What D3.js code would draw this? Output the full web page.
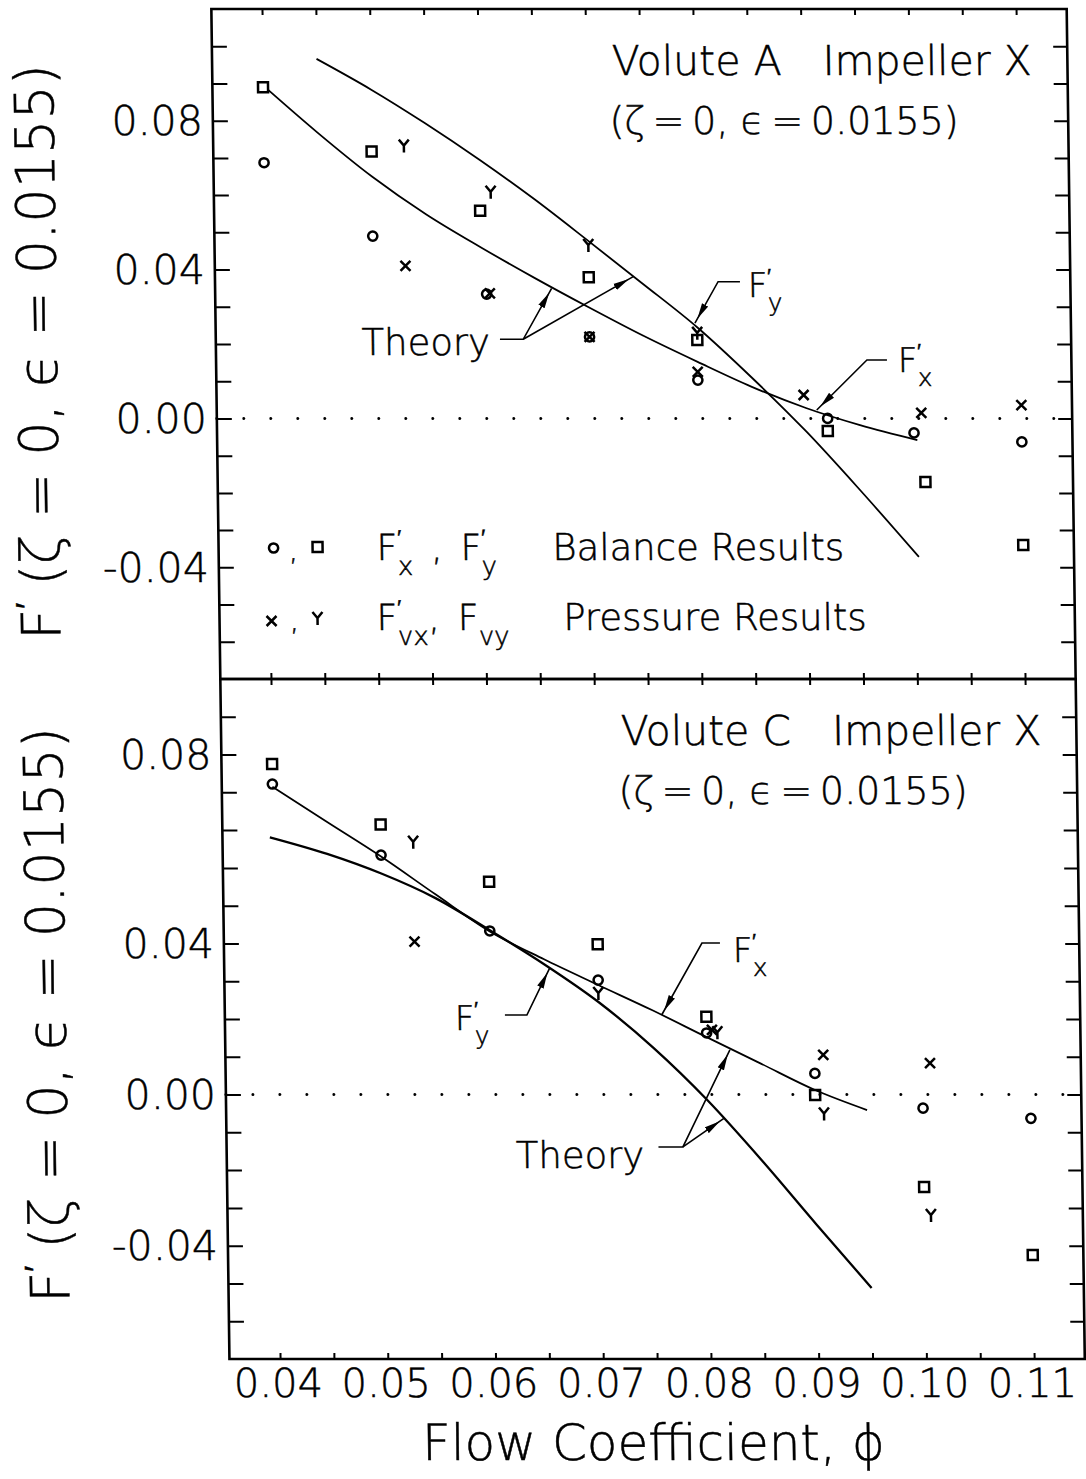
<!DOCTYPE html>
<html>
<head>
<meta charset="utf-8">
<script src="https://cdn.jsdelivr.net/npm/d3@7"></script>
<style>
  html, body { margin: 0; padding: 0; background: #fff; }
  svg { display: block; background: #fff; }
  text { font-family: 'DejaVu Sans', sans-serif; font-weight: 200; fill: #000; stroke: #000; stroke-width: 0.5px; }
</style>
</head>
<body>
<svg id="chart" width="1086" height="1479"></svg>
<script>
// axes
const phiDomain = [0.035, 0.115];
const forceDomain = [-0.07, 0.11];
const phiTickLabels = [0.04, 0.05, 0.06, 0.07, 0.08, 0.09, 0.10, 0.11];
const forceTickLabels = ['-0.04', '0.00', '0.04', '0.08'];
const forceLabelAtA = [-0.04, 0, 0.04, 0.08];
const forceLabelAtC = [-0.04, 0, 0.04, 0.09]; // the printed "0.08" sits one step high on the original

// Volute A, impeller X  [phi, F]
const aFx = [[0.040, 0.0687], [0.050, 0.0490], [0.0605, 0.0334], [0.070, 0.0219], [0.080, 0.0103], [0.092, 0.0000], [0.100, -0.0039], [0.110, -0.0063]];
const aFy = [[0.040, 0.0890], [0.050, 0.0717], [0.060, 0.0558], [0.070, 0.0379], [0.080, 0.0211], [0.092, -0.0034], [0.101, -0.0171], [0.110, -0.0340]];
const aFvx = [[0.053, 0.0410], [0.0608, 0.0336], [0.070, 0.0219], [0.080, 0.0125], [0.0898, 0.0063], [0.1007, 0.0015], [0.110, 0.0036]];
const aFvy = [[0.053, 0.0733], [0.061, 0.0609], [0.070, 0.0466], [0.080, 0.0230]];
const aTheoryFy = [[0.045, 0.0966], [0.050, 0.0884], [0.055, 0.0793], [0.060, 0.0695], [0.065, 0.0590], [0.070, 0.0477], [0.075, 0.0362], [0.080, 0.0245], [0.085, 0.0110], [0.090, -0.0035], [0.095, -0.0195], [0.1003, -0.0372]];
const aTheoryFx = [[0.0405, 0.0882], [0.045, 0.0768], [0.050, 0.0650], [0.055, 0.0548], [0.060, 0.0460], [0.065, 0.0377], [0.070, 0.0298], [0.075, 0.0222], [0.080, 0.0152], [0.085, 0.0085], [0.090, 0.0028], [0.095, -0.0018], [0.1003, -0.0058]];

// Volute C, impeller X
const cFx = [[0.040, 0.0822], [0.050, 0.0634], [0.060, 0.0433], [0.070, 0.0303], [0.080, 0.0163], [0.090, 0.0056], [0.100, -0.0036], [0.110, -0.0063]];
const cFy = [[0.040, 0.0875], [0.050, 0.0715], [0.060, 0.0563], [0.070, 0.0398], [0.080, 0.0206], [0.090, -0.0001], [0.100, -0.0245], [0.110, -0.0425]];
const cFvx = [[0.053, 0.0405], [0.0805, 0.0171], [0.0908, 0.0105], [0.1007, 0.0083]];
const cFvy = [[0.053, 0.0669], [0.070, 0.0269], [0.081, 0.0165], [0.0908, -0.0050], [0.1006, -0.0319]];
const cTheoryFx = [[0.040, 0.0815], [0.045, 0.0722], [0.050, 0.0630], [0.055, 0.0530], [0.060, 0.0432], [0.065, 0.0358], [0.070, 0.0290], [0.075, 0.0223], [0.080, 0.0152], [0.085, 0.0082], [0.090, 0.0012], [0.0948, -0.0041]];
const cTheoryFy = [[0.0397, 0.0681], [0.045, 0.0637], [0.050, 0.0585], [0.055, 0.0520], [0.060, 0.0435], [0.065, 0.0345], [0.070, 0.0245], [0.075, 0.0125], [0.080, -0.0015], [0.085, -0.0175], [0.090, -0.0345], [0.095, -0.0512]];

const svg = d3.select('#chart');

// the scanned page leans slightly: verticals drift right going down
const lean = 0.0134;
const root = svg.append('g')
  .attr('transform', `skewX(${Math.atan(lean) * 180 / Math.PI})`);

svg.append('defs').append('marker')
  .attr('id', 'barb')
  .attr('viewBox', '0 0 16 8')
  .attr('refX', 21).attr('refY', 4)
  .attr('markerWidth', 16).attr('markerHeight', 8)
  .attr('markerUnits', 'userSpaceOnUse')
  .attr('orient', 'auto')
  .append('path').attr('d', 'M0,0.5L16,4L0,7.5Z').attr('fill', '#000');

const x = d3.scaleLinear().domain(phiDomain).range([208, 1069.8]);
const left = x(0.0353), right = x(0.1147);
const phiTicks = d3.range(0, 15).map(i => 0.04 + i * 0.005);
const forceTicks = d3.range(0, 17).map(i => -0.06 + i * 0.01);

const symbols = {
  circle: g => g.append('circle').attr('r', 4.6),
  square: g => g.append('rect').attr('x', -5).attr('y', -5).attr('width', 10).attr('height', 10),
  cross: g => g.append('path').attr('d', 'M-5,-5L5,5M5,-5L-5,5'),
  wye: g => g.append('path').attr('d', 'M-5,-6L0,0L5,-6M0,0V7')
};

function forceLabel(g, px, py, sub, size) {
  const t = g.append('text').attr('x', px).attr('y', py).style('font-size', size + 'px');
  t.append('tspan').text('F');
  t.append('tspan').text('\u2032').style('font-size', size * 0.6 + 'px').attr('dy', -size * 0.42);
  t.append('tspan').text(sub).style('font-size', size * 0.72 + 'px')
    .attr('dx', -size * 0.1).attr('dy', size * 0.84);
  return t;
}

const panels = [
  {
    top: 9, bottom: 679, mid: 352,
    title: 'Volute A\u2003Impeller X',
    labelAt: forceLabelAtA,
    fx: aFx, fy: aFy, fvx: aFvx, fvy: aFvy,
    curves: [{ pts: aTheoryFy, w: 1.8 }, { pts: aTheoryFx, w: 1.8 }],
    words: [{ text: 'Theory', at: [0.04882, 0.01704] }],
    forces: [{ sub: 'y', at: [0.08475, 0.03262] }, { sub: 'x', at: [0.09858, 0.01247] }],
    pointers: [
      [[0.06168, 0.02126], [0.06384, 0.02126], [0.06654, 0.03496]],
      [[0.06384, 0.02126], [0.07413, 0.0381]],
      [[0.08403, 0.03673], [0.0820, 0.03673], [0.0798, 0.0256]],
      [[0.09758, 0.01569], [0.09572, 0.01569], [0.0910, 0.00226]]
    ],
    legend: true
  },
  {
    top: 679, bottom: 1359, mid: 1015,
    title: 'Volute C\u2003Impeller X',
    labelAt: forceLabelAtC,
    fx: cFx, fy: cFy, fvx: cFvx, fvy: cFvy,
    curves: [{ pts: cTheoryFy, w: 2.3 }, { pts: cTheoryFx, w: 1.8 }],
    words: [{ text: 'Theory', at: [0.06213, -0.01943] }],
    forces: [{ sub: 'x', at: [0.08253, 0.0351] }, { sub: 'y', at: [0.05664, 0.01709] }],
    pointers: [
      [[0.07539, -0.01387], [0.07766, -0.01387], [0.08214, 0.0118]],
      [[0.07766, -0.01387], [0.0815, -0.0063]],
      [[0.08135, 0.04012], [0.07968, 0.04012], [0.07585, 0.02106]],
      [[0.0613, 0.02106], [0.06334, 0.02106], [0.0655, 0.0334]]
    ],
    legend: false
  }
];

panels.forEach(p => {
  const y = d3.scaleLinear().domain(forceDomain).range([p.bottom, p.top]);
  const g = root.append('g');

  // ticks on all four sides, pointing inward
  const axes = [
    [d3.axisLeft(y).tickValues(forceTicks).tickSize(-15), `translate(${left},0)`],
    [d3.axisRight(y).tickValues(forceTicks).tickSize(-14), `translate(${right},0)`],
    [d3.axisBottom(x).tickValues(phiTicks).tickSize(-6), `translate(0,${p.bottom})`],
    [d3.axisTop(x).tickValues(phiTicks).tickSize(-6), `translate(0,${p.top})`]
  ];
  axes.forEach(([axis, tr]) => {
    const a = g.append('g').attr('transform', tr).call(axis.tickFormat(''));
    a.select('.domain').remove();
    a.selectAll('line').attr('stroke', '#000').attr('stroke-width', 2);
  });

  g.append('rect')
    .attr('x', left).attr('y', p.top)
    .attr('width', right - left).attr('height', p.bottom - p.top)
    .attr('fill', 'none').attr('stroke', '#000').attr('stroke-width', 2.6);

  // force tick labels
  g.selectAll(null).data(forceTickLabels).enter().append('text')
    .attr('x', left - 10)
    .attr('y', (d, i) => y(p.labelAt[i]))
    .attr('dy', '0.36em')
    .attr('text-anchor', 'end')
    .style('font-size', '41px')
    .text(d => d);

  // zero line
  g.append('line')
    .attr('x1', left).attr('x2', right)
    .attr('y1', y(0)).attr('y2', y(0))
    .attr('stroke', '#000').attr('stroke-width', 3)
    .attr('stroke-linecap', 'round')
    .attr('stroke-dasharray', '0 27');

  // theory curves
  const line = d3.line().curve(d3.curveMonotoneX).x(d => x(d[0])).y(d => y(d[1]));
  p.curves.forEach(c => {
    g.append('path').attr('d', line(c.pts))
      .attr('fill', 'none').attr('stroke', '#000').attr('stroke-width', c.w);
  });

  // measured points
  [[p.fx, 'circle'], [p.fy, 'square'], [p.fvx, 'cross'], [p.fvy, 'wye']].forEach(([pts, kind]) => {
    const m = g.append('g')
      .attr('fill', 'none').attr('stroke', '#000').attr('stroke-width', 2.5)
      .selectAll('g').data(pts).enter().append('g')
      .attr('transform', d => `translate(${x(d[0])},${y(d[1])})`);
    symbols[kind](m);
  });

  // titles
  g.append('text').attr('x', 611).attr('y', p.top + 66)
    .style('font-size', '41px').text(p.title);
  g.append('text').attr('x', 608).attr('y', p.top + 125)
    .style('font-size', '38px')
    .text('(\u03b6\u2009=\u20090, \u03f5\u2009=\u20090.0155)');

  // y axis title
  const yt = g.append('text')
    .attr('transform', `translate(52,${p.mid}) rotate(-90)`)
    .attr('text-anchor', 'middle')
    .style('font-size', '54px');
  yt.append('tspan').text('F');
  yt.append('tspan').text('\u2032').style('font-size', '32px').attr('dy', -22);
  yt.append('tspan').text(' (\u03b6 = 0, \u03f5 = 0.0155)').attr('dy', 22);

  // annotations
  p.pointers.forEach(pts => {
    g.append('path')
      .attr('d', d3.line().x(d => x(d[0])).y(d => y(d[1]))(pts))
      .attr('fill', 'none').attr('stroke', '#000').attr('stroke-width', 1.6)
      .attr('marker-end', 'url(#barb)');
  });
  p.words.forEach(w => {
    g.append('text').attr('x', x(w.at[0])).attr('y', y(w.at[1]))
      .style('font-size', '37px').text(w.text);
  });
  p.forces.forEach(f => forceLabel(g, x(f.at[0]), y(f.at[1]), f.sub, 34));

  if (p.legend) {
    const lg = g.append('g');
    const r1 = p.top + 551, r2 = p.top + 621;
    const mk = lg.append('g').attr('fill', 'none').attr('stroke', '#000').attr('stroke-width', 2.5);
    symbols.circle(mk.append('g').attr('transform', `translate(${left + 55},${p.top + 539})`));
    symbols.square(mk.append('g').attr('transform', `translate(${left + 99},${p.top + 538})`));
    symbols.cross(mk.append('g').attr('transform', `translate(${left + 52},${p.top + 612})`));
    symbols.wye(mk.append('g').attr('transform', `translate(${left + 98},${p.top + 609})`));
    lg.append('text').attr('x', left + 70).attr('y', r1).style('font-size', '30px').text(',');
    lg.append('text').attr('x', left + 70).attr('y', r2).style('font-size', '30px').text(',');

    const t1 = forceLabel(lg, left + 158, r1, 'x', 36);
    t1.append('tspan').text('\u2002,\u2002').attr('dy', -36 * 0.42).style('font-size', '36px');
    t1.append('tspan').text('F').style('font-size', '36px');
    t1.append('tspan').text('\u2032').style('font-size', '22px').attr('dy', -15);
    t1.append('tspan').text('y').style('font-size', '26px').attr('dx', -4).attr('dy', 30);
    lg.append('text').attr('x', 545).attr('y', r1).style('font-size', '37px').text('Balance Results');

    const t2 = forceLabel(lg, left + 157, r2, 'vx', 36);
    t2.append('tspan').text(',\u2002').attr('dy', -36 * 0.42).style('font-size', '36px');
    t2.append('tspan').text('F').style('font-size', '36px');
    t2.append('tspan').text('vy').style('font-size', '26px').attr('dy', 15);
    lg.append('text').attr('x', 555).attr('y', r2).style('font-size', '37px').text('Pressure Results');
  }
});

// phi tick labels under the lower panel
root.selectAll(null).data(phiTickLabels).enter().append('text')
  .attr('x', d => x(d) - 2).attr('y', 1397)
  .attr('text-anchor', 'middle')
  .style('font-size', '40px')
  .text(d => d3.format('.2f')(d));

root.append('text')
  .attr('x', 634).attr('y', 1460)
  .attr('text-anchor', 'middle')
  .style('font-size', '50px')
  .text('Flow Coefficient, \u03d5');
</script>
</body>
</html>
